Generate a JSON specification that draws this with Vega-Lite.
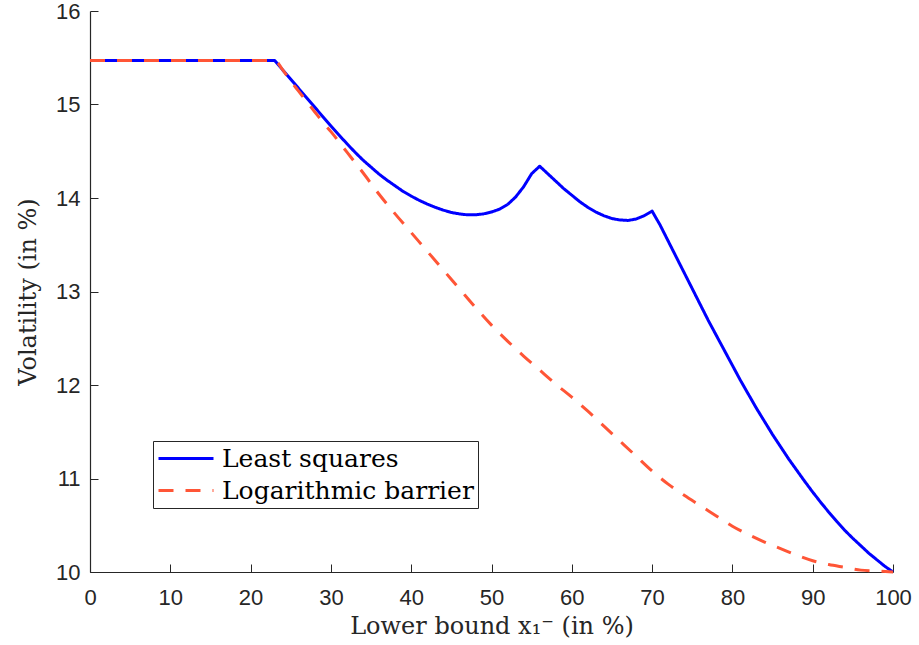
{
  "$schema": "https://vega.github.io/schema/vega-lite/v6.json",
  "width": 803,
  "height": 561,
  "autosize": {"type": "none"},
  "padding": {"left": 90, "top": 11, "right": 26, "bottom": 73},
  "background": "white",
  "config": {"view": {"stroke": null}},
  "datasets": {
    "ls": [
      {"x": 0, "y": 15.47, "m": "Least squares"},
      {"x": 23, "y": 15.47, "m": "Least squares"},
      {"x": 24, "y": 15.37, "m": "Least squares"},
      {"x": 25, "y": 15.27, "m": "Least squares"},
      {"x": 26, "y": 15.17, "m": "Least squares"},
      {"x": 27, "y": 15.07, "m": "Least squares"},
      {"x": 28, "y": 14.97, "m": "Least squares"},
      {"x": 29, "y": 14.87, "m": "Least squares"},
      {"x": 30, "y": 14.77, "m": "Least squares"},
      {"x": 31, "y": 14.675, "m": "Least squares"},
      {"x": 32, "y": 14.58, "m": "Least squares"},
      {"x": 33, "y": 14.49, "m": "Least squares"},
      {"x": 34, "y": 14.405, "m": "Least squares"},
      {"x": 35, "y": 14.33, "m": "Least squares"},
      {"x": 36, "y": 14.255, "m": "Least squares"},
      {"x": 37, "y": 14.19, "m": "Least squares"},
      {"x": 38, "y": 14.13, "m": "Least squares"},
      {"x": 39, "y": 14.07, "m": "Least squares"},
      {"x": 40, "y": 14.02, "m": "Least squares"},
      {"x": 41, "y": 13.975, "m": "Least squares"},
      {"x": 42, "y": 13.935, "m": "Least squares"},
      {"x": 43, "y": 13.90, "m": "Least squares"},
      {"x": 44, "y": 13.87, "m": "Least squares"},
      {"x": 45, "y": 13.845, "m": "Least squares"},
      {"x": 46, "y": 13.83, "m": "Least squares"},
      {"x": 47, "y": 13.82, "m": "Least squares"},
      {"x": 48, "y": 13.82, "m": "Least squares"},
      {"x": 49, "y": 13.83, "m": "Least squares"},
      {"x": 50, "y": 13.85, "m": "Least squares"},
      {"x": 51, "y": 13.88, "m": "Least squares"},
      {"x": 52, "y": 13.93, "m": "Least squares"},
      {"x": 53, "y": 14.01, "m": "Least squares"},
      {"x": 54, "y": 14.12, "m": "Least squares"},
      {"x": 55, "y": 14.26, "m": "Least squares"},
      {"x": 56, "y": 14.34, "m": "Least squares"},
      {"x": 57, "y": 14.26, "m": "Least squares"},
      {"x": 58, "y": 14.18, "m": "Least squares"},
      {"x": 59, "y": 14.10, "m": "Least squares"},
      {"x": 60, "y": 14.03, "m": "Least squares"},
      {"x": 61, "y": 13.96, "m": "Least squares"},
      {"x": 62, "y": 13.90, "m": "Least squares"},
      {"x": 63, "y": 13.85, "m": "Least squares"},
      {"x": 64, "y": 13.81, "m": "Least squares"},
      {"x": 65, "y": 13.78, "m": "Least squares"},
      {"x": 66, "y": 13.765, "m": "Least squares"},
      {"x": 67, "y": 13.76, "m": "Least squares"},
      {"x": 68, "y": 13.775, "m": "Least squares"},
      {"x": 69, "y": 13.81, "m": "Least squares"},
      {"x": 70, "y": 13.86, "m": "Least squares"},
      {"x": 71, "y": 13.71, "m": "Least squares"},
      {"x": 72, "y": 13.54, "m": "Least squares"},
      {"x": 73, "y": 13.37, "m": "Least squares"},
      {"x": 74, "y": 13.20, "m": "Least squares"},
      {"x": 75, "y": 13.03, "m": "Least squares"},
      {"x": 76, "y": 12.86, "m": "Least squares"},
      {"x": 77, "y": 12.69, "m": "Least squares"},
      {"x": 78, "y": 12.53, "m": "Least squares"},
      {"x": 79, "y": 12.37, "m": "Least squares"},
      {"x": 80, "y": 12.21, "m": "Least squares"},
      {"x": 81, "y": 12.05, "m": "Least squares"},
      {"x": 82, "y": 11.90, "m": "Least squares"},
      {"x": 83, "y": 11.75, "m": "Least squares"},
      {"x": 84, "y": 11.61, "m": "Least squares"},
      {"x": 85, "y": 11.47, "m": "Least squares"},
      {"x": 86, "y": 11.34, "m": "Least squares"},
      {"x": 87, "y": 11.21, "m": "Least squares"},
      {"x": 88, "y": 11.09, "m": "Least squares"},
      {"x": 89, "y": 10.97, "m": "Least squares"},
      {"x": 90, "y": 10.855, "m": "Least squares"},
      {"x": 91, "y": 10.745, "m": "Least squares"},
      {"x": 92, "y": 10.64, "m": "Least squares"},
      {"x": 93, "y": 10.54, "m": "Least squares"},
      {"x": 94, "y": 10.445, "m": "Least squares"},
      {"x": 95, "y": 10.36, "m": "Least squares"},
      {"x": 96, "y": 10.28, "m": "Least squares"},
      {"x": 97, "y": 10.20, "m": "Least squares"},
      {"x": 98, "y": 10.13, "m": "Least squares"},
      {"x": 99, "y": 10.06, "m": "Least squares"},
      {"x": 100, "y": 10.00, "m": "Least squares"}
    ],
    "lb": [
      {"x": 0, "y": 15.47, "m": "Logarithmic barrier"},
      {"x": 23, "y": 15.47, "m": "Logarithmic barrier"},
      {"x": 24, "y": 15.37, "m": "Logarithmic barrier"},
      {"x": 25, "y": 15.25, "m": "Logarithmic barrier"},
      {"x": 26, "y": 15.14, "m": "Logarithmic barrier"},
      {"x": 27, "y": 15.03, "m": "Logarithmic barrier"},
      {"x": 28, "y": 14.92, "m": "Logarithmic barrier"},
      {"x": 29, "y": 14.81, "m": "Logarithmic barrier"},
      {"x": 30, "y": 14.71, "m": "Logarithmic barrier"},
      {"x": 32, "y": 14.49, "m": "Logarithmic barrier"},
      {"x": 34, "y": 14.27, "m": "Logarithmic barrier"},
      {"x": 36, "y": 14.04, "m": "Logarithmic barrier"},
      {"x": 38, "y": 13.83, "m": "Logarithmic barrier"},
      {"x": 40, "y": 13.63, "m": "Logarithmic barrier"},
      {"x": 42, "y": 13.43, "m": "Logarithmic barrier"},
      {"x": 44, "y": 13.23, "m": "Logarithmic barrier"},
      {"x": 46, "y": 13.03, "m": "Logarithmic barrier"},
      {"x": 48, "y": 12.83, "m": "Logarithmic barrier"},
      {"x": 50, "y": 12.64, "m": "Logarithmic barrier"},
      {"x": 52, "y": 12.47, "m": "Logarithmic barrier"},
      {"x": 54, "y": 12.31, "m": "Logarithmic barrier"},
      {"x": 56, "y": 12.16, "m": "Logarithmic barrier"},
      {"x": 58, "y": 12.01, "m": "Logarithmic barrier"},
      {"x": 60, "y": 11.87, "m": "Logarithmic barrier"},
      {"x": 62, "y": 11.72, "m": "Logarithmic barrier"},
      {"x": 64, "y": 11.56, "m": "Logarithmic barrier"},
      {"x": 66, "y": 11.40, "m": "Logarithmic barrier"},
      {"x": 68, "y": 11.24, "m": "Logarithmic barrier"},
      {"x": 70, "y": 11.08, "m": "Logarithmic barrier"},
      {"x": 72, "y": 10.94, "m": "Logarithmic barrier"},
      {"x": 74, "y": 10.82, "m": "Logarithmic barrier"},
      {"x": 76, "y": 10.71, "m": "Logarithmic barrier"},
      {"x": 78, "y": 10.60, "m": "Logarithmic barrier"},
      {"x": 80, "y": 10.49, "m": "Logarithmic barrier"},
      {"x": 82, "y": 10.40, "m": "Logarithmic barrier"},
      {"x": 84, "y": 10.32, "m": "Logarithmic barrier"},
      {"x": 86, "y": 10.25, "m": "Logarithmic barrier"},
      {"x": 88, "y": 10.18, "m": "Logarithmic barrier"},
      {"x": 90, "y": 10.12, "m": "Logarithmic barrier"},
      {"x": 92, "y": 10.08, "m": "Logarithmic barrier"},
      {"x": 94, "y": 10.05, "m": "Logarithmic barrier"},
      {"x": 96, "y": 10.02, "m": "Logarithmic barrier"},
      {"x": 98, "y": 10.01, "m": "Logarithmic barrier"},
      {"x": 100, "y": 10.00, "m": "Logarithmic barrier"}
    ]
  },
  "encoding": {
    "x": {
      "field": "x", "type": "quantitative",
      "scale": {"domain": [0, 100], "nice": false, "zero": false},
      "axis": {
        "values": [0, 10, 20, 30, 40, 50, 60, 70, 80, 90, 100],
        "title": "Lower bound x₁⁻ (in %)",
        "titleFont": "DejaVu Serif", "titleFontSize": 24, "titleFontWeight": "normal",
        "titleColor": "#262626", "titlePadding": 6,
        "labelFont": "Liberation Sans", "labelFontSize": 22, "labelColor": "#262626",
        "labelPadding": 23, "labelFlush": false,
        "tickSize": -8, "tickColor": "#262626", "tickWidth": 1,
        "domainColor": "#262626", "domainWidth": 1.2, "grid": false
      }
    },
    "y": {
      "field": "y", "type": "quantitative",
      "scale": {"domain": [10, 16], "nice": false, "zero": false},
      "axis": {
        "values": [10, 11, 12, 13, 14, 15, 16],
        "title": "Volatility (in %)",
        "titleFont": "DejaVu Serif", "titleFontSize": 24, "titleFontWeight": "normal",
        "titleColor": "#262626", "titlePadding": 15,
        "labelFont": "Liberation Sans", "labelFontSize": 22, "labelColor": "#262626",
        "labelPadding": 18, "labelFlush": false,
        "tickSize": -8, "tickColor": "#262626", "tickWidth": 1,
        "domainColor": "#262626", "domainWidth": 1.2, "grid": false
      }
    },
    "color": {
      "field": "m", "type": "nominal",
      "scale": {"domain": ["Least squares", "Logarithmic barrier"], "range": ["#0000ff", "#ff5536"]},
      "legend": {
        "title": null, "orient": "none", "legendX": 63, "legendY": 430,
        "direction": "vertical",
        "strokeColor": "#262626", "fillColor": "white", "padding": 4,
        "symbolType": "stroke", "symbolSize": 3025, "symbolStrokeWidth": 3,
        "labelFont": "DejaVu Serif", "labelFontSize": 25, "labelColor": "black",
        "labelOffset": 7, "rowPadding": 5, "labelLimit": 400, "clipHeight": 27
      }
    },
    "strokeDash": {
      "field": "m", "type": "nominal",
      "scale": {"domain": ["Least squares", "Logarithmic barrier"], "range": [[1, 0], [15, 12]]},
      "legend": {
        "title": null, "orient": "none", "legendX": 63, "legendY": 430,
        "direction": "vertical",
        "strokeColor": "#262626", "fillColor": "white", "padding": 4,
        "symbolType": "stroke", "symbolSize": 3025, "symbolStrokeWidth": 3,
        "labelFont": "DejaVu Serif", "labelFontSize": 25, "labelColor": "black",
        "labelOffset": 7, "rowPadding": 5, "labelLimit": 400, "clipHeight": 27
      }
    }
  },
  "layer": [
    {"data": {"name": "ls"}, "mark": {"type": "line", "strokeWidth": 3, "clip": false, "interpolate": "linear", "strokeJoin": "round"}},
    {"data": {"name": "lb"}, "mark": {"type": "line", "strokeWidth": 3, "clip": false, "interpolate": "monotone"}}
  ]
}
